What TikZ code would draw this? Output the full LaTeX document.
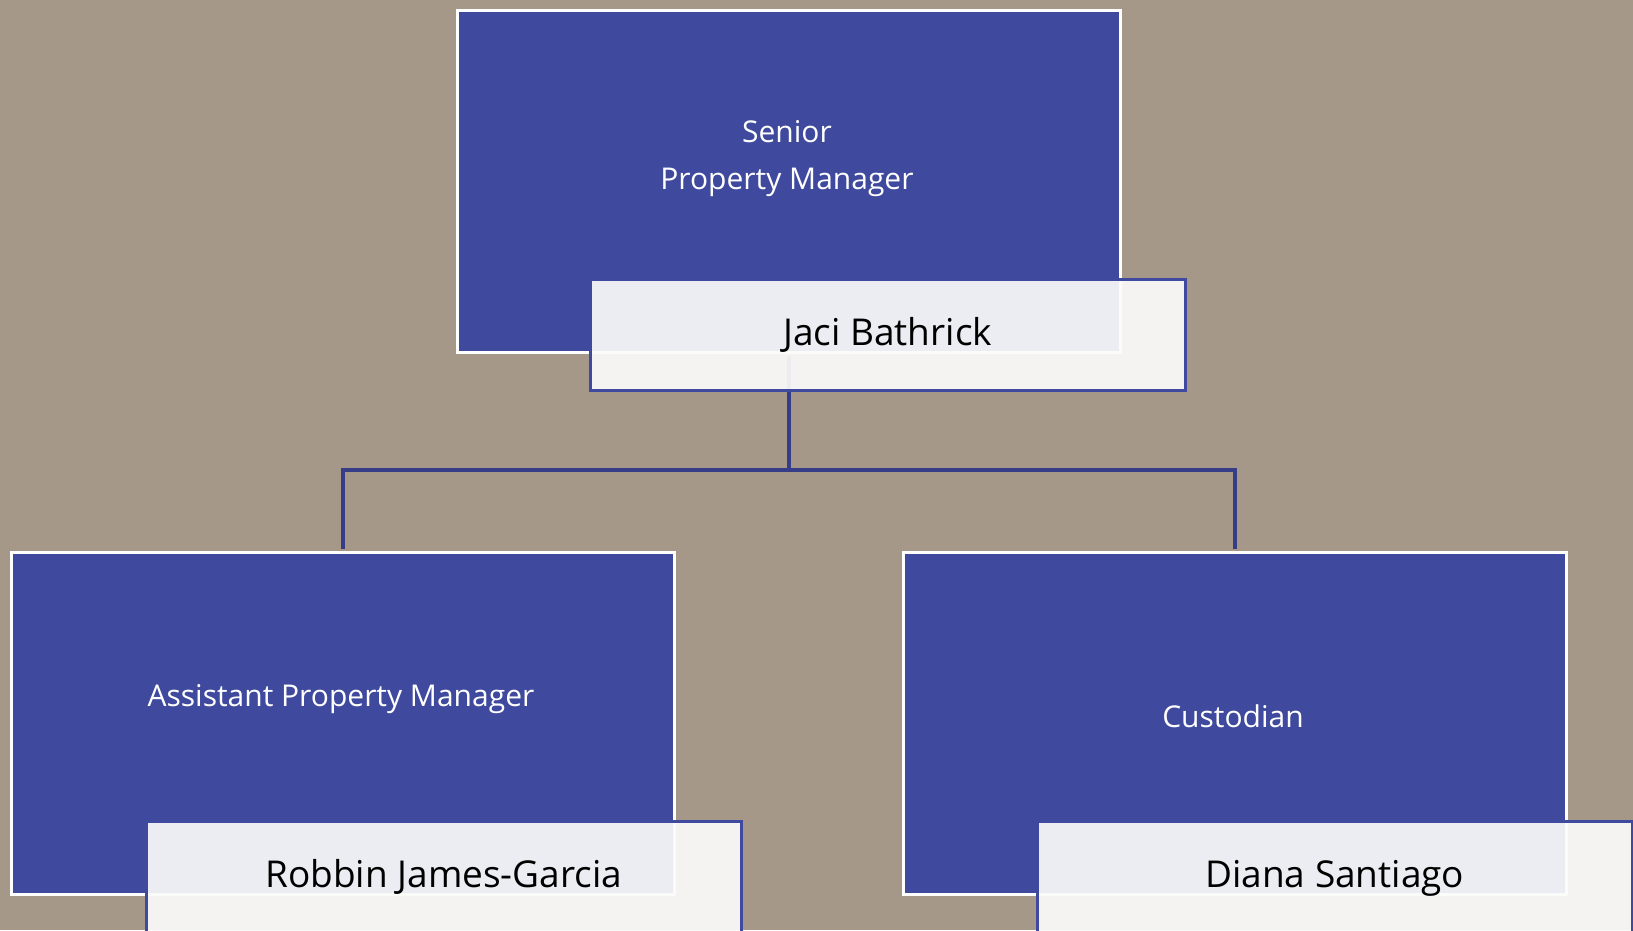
\documentclass[tikz,border=0pt]{standalone}
\usepackage{fontspec}
\setmainfont{Open Sans}
\usepackage{tikz}
\usetikzlibrary{positioning,calc}

\definecolor{bgtaupe}{HTML}{A59889}
\definecolor{roleblue}{HTML}{3F4A9E}
\definecolor{linkblue}{HTML}{363D87}
\definecolor{namegray}{HTML}{FBFBFA}

\begin{document}
\begin{tikzpicture}[x=1pt, y=-1pt,
  role/.style={rectangle, fill=roleblue, draw=white, line width=3.5pt,
    minimum width=663pt, minimum height=342pt, inner sep=0pt, anchor=north west},
  person/.style={rectangle, fill=namegray, fill opacity=0.92, draw=roleblue,
    draw opacity=1, text opacity=1, line width=3.5pt, minimum width=595pt,
    minimum height=111pt, inner sep=0pt, anchor=north west,
    font=\fontsize{37}{44}\selectfont, text height=22pt, text depth=0pt},
  roletext/.style={text=white, align=center, inner sep=0pt, anchor=base,
    font=\fontsize{30}{47}\selectfont},
  link/.style={draw=linkblue, line width=3.5pt}]

  \path[use as bounding box, fill=bgtaupe] (0,0) rectangle (1633,930);
  \clip (0,0) rectangle (1633,930);

  % position boxes
  \node[role] (topbox)   at (455.5,8.5) {};
  \node[role] (leftbox)  at (9.5,550.5) {};
  \node[role] (rightbox) at (901.5,550.5) {};

  % reporting lines
  \coordinate (fork) at (topbox.south |- 0,470);
  \draw[link, shorten <=1.75pt] (topbox.south) -- (fork);
  \draw[link, shorten >=1.75pt] (fork) -| (leftbox.north);
  \draw[link, shorten >=1.75pt] (fork) -| (rightbox.north);

  % name plates
  \node[person] (topname)   at (588.5,277.5)  {Jaci Bathrick};
  \node[person] (leftname)  at (144.5,819.5)  {Robbin James-Garcia};
  \node[person] (rightname) at (1035.5,819.5) {Diana Santiago};

  % titles
  \node[roletext] (toptitle)   at (787,189)  {Senior\\Property Manager};
  \node[roletext] (lefttitle)  at (341,706)  {Assistant Property Manager};
  \node[roletext] (righttitle) at (1233,727) {Custodian};
\end{tikzpicture}
\end{document}
